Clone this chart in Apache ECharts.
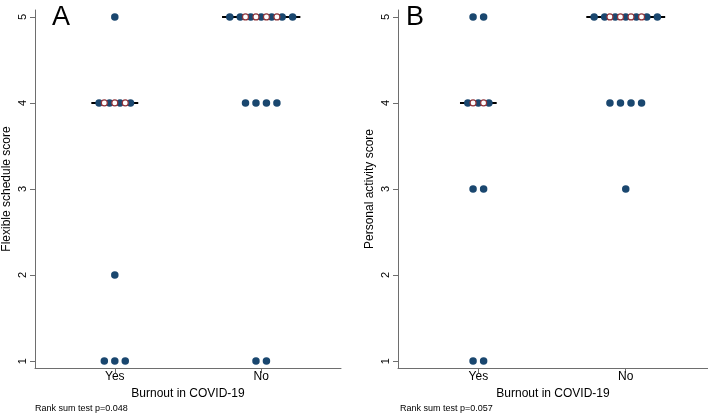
<!DOCTYPE html>
<html>
<head>
<meta charset="utf-8">
<script src="https://cdn.jsdelivr.net/npm/echarts@6/dist/echarts.min.js"></script>
<style>
  html, body { margin: 0; padding: 0; background: #fff; }
  #chart { width: 708px; height: 415px; }
</style>
</head>
<body>
<div id="chart"></div>
<script>
// groups on the x axis
const groups = ["Yes", "No"];
const scores = [1, 2, 3, 4, 5];

// number of respondents at each score (1..5), per group
const flexYes = [3, 1, 0, 4, 1];
const flexNo = [2, 0, 0, 4, 7];
const activityYes = [2, 0, 2, 3, 2];
const activityNo = [0, 0, 1, 4, 7];

// medians per group
const flexMedians = [4, 5];
const activityMedians = [4, 5];

const pValues = ["0.048", "0.057"];

const navy = "#1a476f";
const maroon = "#90353b";
const step = 0.0715; // horizontal dot spacing in x units
const lineExtra = 0.053;

function dotsFor(counts, gi, median) {
  const filled = [], hollow = [];
  counts.forEach((n, si) => {
    const y = scores[si];
    for (let i = 0; i < n; i++) {
      filled.push([gi + 1 + (i - (n - 1) / 2) * step, y]);
    }
    if (y === median) {
      for (let i = 0; i < n - 1; i++) {
        if (n >= 7 && (i === 0 || i === n - 2)) continue;
        hollow.push([gi + 1 + (i + 0.5 - (n - 1) / 2) * step, y]);
      }
    }
  });
  return { filled, hollow };
}

function medianLine(counts, gi, median) {
  const n = counts[scores.indexOf(median)];
  const half = (n - 1) / 2 * step + lineExtra;
  return [[gi + 1 - half, median], [gi + 1 + half, median]];
}

function panelSeries(idx, yesCounts, noCounts, medians) {
  const out = [];
  [yesCounts, noCounts].forEach((counts, gi) => {
    const d = dotsFor(counts, gi, medians[gi]);
    out.push({
      type: "line", xAxisIndex: idx, yAxisIndex: idx, z: 2,
      data: medianLine(counts, gi, medians[gi]),
      symbol: "none", silent: true,
      lineStyle: { color: "#000", width: 2 }
    });
    out.push({
      type: "scatter", xAxisIndex: idx, yAxisIndex: idx, z: 3,
      data: d.filled, symbol: "circle", symbolSize: 7.5,
      itemStyle: { color: navy, opacity: 1 }
    });
    out.push({
      type: "scatter", xAxisIndex: idx, yAxisIndex: idx, z: 4,
      data: d.hollow, symbol: "circle", symbolSize: 6,
      itemStyle: { color: "#fff", borderColor: maroon, borderWidth: 1.2, opacity: 1 }
    });
  });
  return out;
}

const axisColor = "#6e6e6e";
const font = "Liberation Sans, Arial, sans-serif";

function xAxis(idx, max) {
  return {
    type: "value", gridIndex: idx, min: 0.455, max: max,
    name: "Burnout in COVID-19", nameLocation: "middle", nameGap: 19,
    nameTextStyle: { fontFamily: font, fontSize: 12, color: "#000" },
    splitLine: { show: false },
    axisLine: { lineStyle: { color: axisColor, width: 1 } },
    axisTick: { length: 5, lineStyle: { color: axisColor }, customValues: [1, 2] },
    axisLabel: {
      customValues: [1, 2], margin: 3,
      formatter: v => groups[Math.round(v) - 1],
      fontFamily: font, fontSize: 12, color: "#000"
    }
  };
}

function yAxis(idx, name) {
  return {
    type: "value", gridIndex: idx, min: 0.92, max: 5.08,
    name: name, nameLocation: "middle", nameGap: 22, nameRotate: 90,
    nameTextStyle: { fontFamily: font, fontSize: 12, color: "#000" },
    splitLine: { show: false },
    axisLine: { show: true, lineStyle: { color: axisColor, width: 1 } },
    axisTick: { show: true, length: 5, lineStyle: { color: axisColor }, customValues: scores },
    axisLabel: {
      customValues: scores, rotate: 90, margin: 7,
      fontFamily: font, fontSize: 11, color: "#000"
    }
  };
}

const chart = echarts.init(document.getElementById("chart"), null, { renderer: "canvas" });
chart.setOption({
  backgroundColor: "#fff",
  animation: false,
  grid: [
    { left: 34, top: 10, width: 307, height: 358 },
    { left: 398, top: 10, width: 310, height: 358 }
  ],
  xAxis: [xAxis(0, 2.545), xAxis(1, 2.558)],
  yAxis: [yAxis(0, "Flexible schedule score"), yAxis(1, "Personal activity score")],
  series: [
    ...panelSeries(0, flexYes, flexNo, flexMedians),
    ...panelSeries(1, activityYes, activityNo, activityMedians)
  ],
  graphic: [
    { type: "text", left: 52, top: 4, style: { text: "A", fontFamily: font, fontSize: 27, fill: "#000" } },
    { type: "text", left: 406, top: 4, style: { text: "B", fontFamily: font, fontSize: 27, fill: "#000" } },
    { type: "text", left: 35, top: 404, style: { text: "Rank sum test p=" + pValues[0], fontFamily: font, fontSize: 9, fill: "#000" } },
    { type: "text", left: 400, top: 404, style: { text: "Rank sum test p=" + pValues[1], fontFamily: font, fontSize: 9, fill: "#000" } }
  ]
});
</script>
</body>
</html>
